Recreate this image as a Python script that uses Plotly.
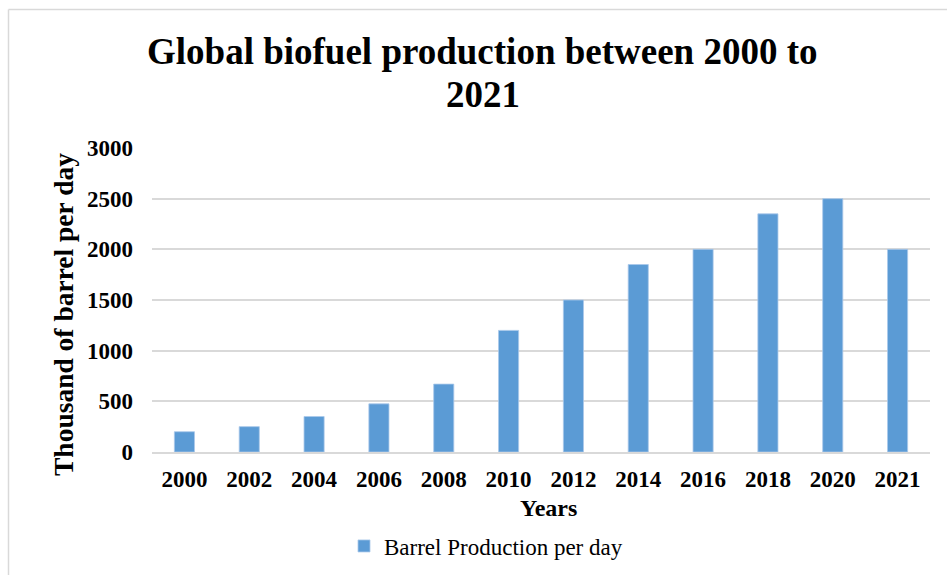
import plotly.graph_objects as go

# Biofuel output, thousand barrels per day
years = ["2000", "2002", "2004", "2006", "2008", "2010",
         "2012", "2014", "2016", "2018", "2020", "2021"]
production = [200, 250, 350, 475, 670, 1200,
              1500, 1850, 2000, 2350, 2500, 2000]
y_ticks = [0, 500, 1000, 1500, 2000, 2500, 3000]

SERIF = "Times New Roman, Liberation Serif, serif"
BLUE = "#5B9BD5"
GRID = "#d9d9d9"

fig = go.Figure()
fig.add_trace(go.Bar(
    x=years,
    y=production,
    name="Barrel Production per day",
    marker=dict(color=BLUE, line=dict(color="#a9c8ea", width=0.8)),
))

W, H = 947, 575
L, R, T, B = 152, 17, 148, 123
pw, ph = W - L - R, H - T - B


def px_x(p):
    return (p - L) / pw


def px_y(p):
    return (H - B - p) / ph


fig.update_layout(
    width=W, height=H,
    margin=dict(l=L, r=R, t=T, b=B, pad=0, autoexpand=False),
    paper_bgcolor="white",
    plot_bgcolor="white",
    bargap=0.69,
    showlegend=True,
    legend=dict(
        orientation="h",
        x=px_x(486), xanchor="center",
        y=px_y(546), yanchor="middle",
        font=dict(family=SERIF, size=23, color="#000000"),
        itemwidth=30,
    ),
    xaxis=dict(
        type="category",
        automargin=False,
        tickfont=dict(family=SERIF, size=23, color="#000000", weight="bold"),
        showgrid=False,
        showline=True, linecolor=GRID, linewidth=1.5,
        ticks="", ticklabelstandoff=6,
    ),
    yaxis=dict(
        range=[0, 3000],
        automargin=False,
        tickvals=y_ticks,
        tickfont=dict(family=SERIF, size=23, color="#000000", weight="bold"),
        showgrid=True, gridcolor=GRID, gridwidth=1.5,
        zeroline=False,
        ticks="", ticklabelstandoff=18,
    ),
)

# Two-line chart title
title_font = dict(family=SERIF, size=37, color="#000000", weight="bold")
fig.add_annotation(text="Global biofuel production between 2000 to",
                   xref="paper", yref="paper", x=px_x(482.5), y=px_y(52),
                   xanchor="center", yanchor="middle", showarrow=False,
                   font=title_font)
fig.add_annotation(text="2021",
                   xref="paper", yref="paper", x=px_x(482.5), y=px_y(94),
                   xanchor="center", yanchor="middle", showarrow=False,
                   font=title_font)

# Axis titles
fig.add_annotation(text="Years",
                   xref="paper", yref="paper", x=px_x(548), y=px_y(508),
                   xanchor="center", yanchor="middle", showarrow=False,
                   font=dict(family=SERIF, size=24, color="#000000", weight="bold"))
fig.add_annotation(text="Thousand of barrel per day", textangle=-90,
                   xref="paper", yref="paper", x=px_x(63), y=px_y(315),
                   xanchor="center", yanchor="middle", showarrow=False,
                   font=dict(family=SERIF, size=27.5, color="#000000", weight="bold"))

# Chart frame (top and left edges)
fig.add_shape(type="line", xref="paper", yref="paper",
              x0=px_x(8.5), x1=px_x(960), y0=px_y(9.5), y1=px_y(9.5),
              line=dict(color=GRID, width=1.5))
fig.add_shape(type="line", xref="paper", yref="paper",
              x0=px_x(8.5), x1=px_x(8.5), y0=px_y(9.5), y1=px_y(600),
              line=dict(color=GRID, width=1.5))

fig.write_html("out.html")
